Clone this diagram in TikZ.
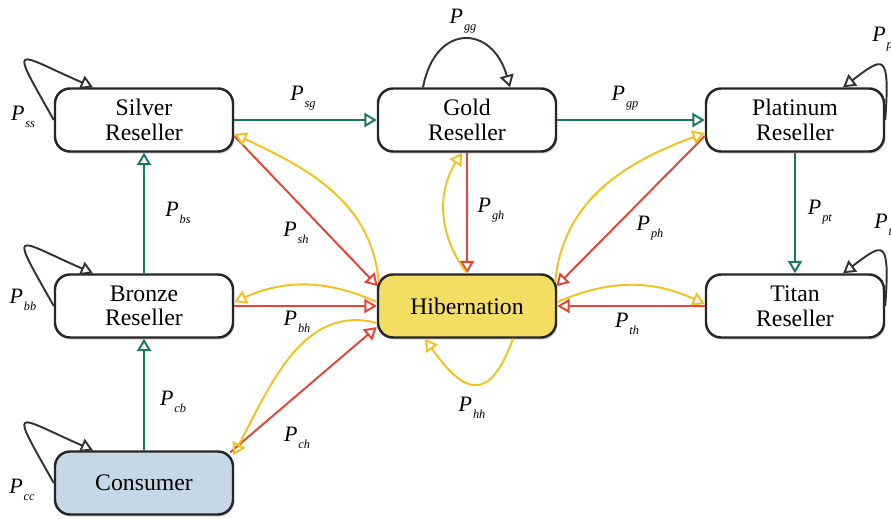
\documentclass[tikz,border=0pt]{standalone}
\usepackage{fontspec}
\setmainfont{Liberation Serif}
\usetikzlibrary{arrows.meta, shadows}

\definecolor{linkgreen}{RGB}{22,122,96}
\definecolor{linkred}{RGB}{232,66,52}
\definecolor{linkyellow}{RGB}{246,192,28}
\definecolor{hibfill}{RGB}{243,221,98}
\definecolor{consfill}{RGB}{198,216,231}

\newcommand{\prob}[1]{\textit{P}\kern0.5pt\raisebox{-0.7ex}{\fontsize{7}{8}\selectfont\textit{#1}}}

\begin{document}
\begin{tikzpicture}[scale=1.0,
  state/.style={draw=black!85, line width=1.4pt, rounded corners=0.3cm, fill=white,
    minimum width=3.56cm, minimum height=1.26cm, inner sep=0pt, align=center,
    font=\fontsize{13.5}{14}\selectfont,
    drop shadow={shadow xshift=0.8pt, shadow yshift=-1.2pt, opacity=0.35}},
  tip/.style={-{Triangle[open, length=7pt, width=8pt]}},
  gline/.style={tip, linkgreen, line width=1.1pt},
  rline/.style={tip, linkred, line width=1.1pt},
  yline/.style={tip, linkyellow, line width=1.1pt},
  kline/.style={tip, black!80, line width=1.1pt},
  lab/.style={font=\fontsize{12.5}{14}\selectfont}
]
  \useasboundingbox (0,0) rectangle (17.82,-10.36);

  % -- States --
  \node[state] (silver) at (2.88,-2.40) {Silver\\Reseller};
  \node[state] (gold) at (9.34,-2.40) {Gold\\Reseller};
  \node[state] (plat) at (15.90,-2.40) {Platinum\\Reseller};
  \node[state] (bronze) at (2.88,-6.12) {Bronze\\Reseller};
  \node[state, fill=hibfill] (hib) at (9.34,-6.12) {Hibernation};
  \node[state] (titan) at (15.90,-6.12) {Titan\\Reseller};
  \node[state, fill=consfill] (consumer) at (2.88,-9.66) {Consumer};

  % -- Upgrades (green) --
  \draw[gline] (silver) -- (gold);
  \draw[gline] (gold) -- (plat);
  \draw[gline] (plat) -- (titan);
  \draw[gline] (bronze) -- (silver);
  \draw[gline] (consumer) -- (bronze);

  % -- Into hibernation (red) --
  \draw[rline] ([yshift=-0.32cm]silver.east) -- ([xshift=0.02cm,yshift=-0.26cm]hib.north west);
  \draw[rline] (gold) -- (hib);
  \draw[rline] ([yshift=-0.32cm]plat.west) -- ([xshift=-0.02cm,yshift=-0.26cm]hib.north east);
  \draw[rline] (bronze) -- (hib);
  \draw[rline] (titan) -- (hib);
  \draw[rline] ([xshift=-0.08cm,yshift=-0.04cm]consumer.north east) -- ([yshift=-0.42cm]hib.west);

  % -- Out of hibernation (yellow) --
  \draw[yline] ([xshift=0.04cm,yshift=-0.18cm]hib.north west) to[out=95, in=-25] ([yshift=-0.28cm]silver.east);
  \draw[yline] (hib.north) to[bend left=35] ([xshift=-0.1cm]gold.south);
  \draw[yline] ([xshift=-0.04cm,yshift=-0.18cm]hib.north east) to[out=85, in=200] ([yshift=-0.26cm]plat.west);
  \draw[yline] ([yshift=0.08cm]hib.west) to[bend right=24] ([yshift=0.08cm]bronze.east);
  \draw[yline] ([yshift=0.08cm]hib.east) to[bend left=24] ([yshift=0.04cm]titan.west);
  \draw[yline] ([yshift=-0.34cm]hib.west) to[out=165, in=62] ([xshift=-0.02cm,yshift=-0.1cm]consumer.north east);
  \draw[yline] ([xshift=0.92cm]hib.south) to[out=-110, in=-55, looseness=2] ([xshift=-0.84cm]hib.south);

  % -- Staying put (black) --
  \draw[kline] (silver.west) .. controls +(-0.9,1.6) and +(-1.6,0.7) .. ([xshift=-1.02cm]silver.north);
  \draw[kline] (bronze.west) .. controls +(-0.9,1.6) and +(-1.6,0.7) .. ([xshift=-1.02cm]bronze.north);
  \draw[kline] (consumer.west) .. controls +(-0.9,1.6) and +(-1.6,0.7) .. ([xshift=-1.02cm]consumer.north);
  \draw[kline] ([xshift=-0.88cm]gold.north) .. controls +(0.25,1.3) and +(-0.35,1.25) .. ([xshift=0.86cm]gold.north);
  \draw[kline] (plat.east) .. controls +(0.1,1.4) and +(0.8,0.6) .. ([xshift=0.96cm]plat.north);
  \draw[kline] (titan.east) .. controls +(0.1,1.4) and +(0.8,0.6) .. ([xshift=0.96cm]titan.north);

  % -- Probabilities --
  \node[lab] (pss) at (0.46,-2.34) {\prob{ss}};
  \node[lab] (pbb) at (0.46,-6.00) {\prob{bb}};
  \node[lab] (pcc) at (0.44,-9.80) {\prob{cc}};
  \node[lab] (pgg) at (9.26,-0.42) {\prob{gg}};
  \node[lab, anchor=west, inner sep=0pt] (ppp) at (17.44,-0.78) {\prob{pp}};
  \node[lab, anchor=west, inner sep=0pt] (ptt) at (17.48,-4.50) {\prob{tt}};
  \node[lab] (psg) at (6.06,-1.96) {\prob{sg}};
  \node[lab] (pgp) at (12.50,-1.96) {\prob{gp}};
  \node[lab] (pbs) at (3.56,-4.26) {\prob{bs}};
  \node[lab] (pcb) at (3.46,-8.04) {\prob{cb}};
  \node[lab] (ppt) at (16.40,-4.24) {\prob{pt}};
  \node[lab] (psh) at (5.92,-4.66) {\prob{sh}};
  \node[lab] (pgh) at (9.82,-4.20) {\prob{gh}};
  \node[lab] (pph) at (13.00,-4.56) {\prob{ph}};
  \node[lab] (pbh) at (5.94,-6.44) {\prob{bh}};
  \node[lab] (pth) at (12.54,-6.48) {\prob{th}};
  \node[lab] (phh) at (9.44,-8.16) {\prob{hh}};
  \node[lab] (pch) at (5.94,-8.76) {\prob{ch}};

\end{tikzpicture}
\end{document}
